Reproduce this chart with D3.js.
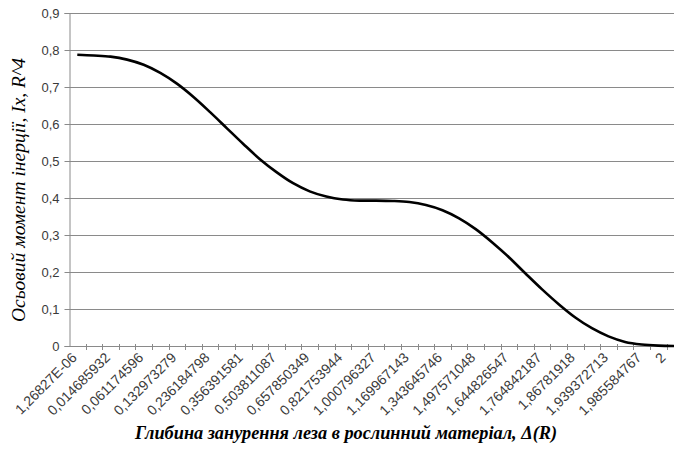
<!DOCTYPE html>
<html>
<head>
<meta charset="utf-8">
<script src="https://cdn.jsdelivr.net/npm/d3@7"></script>
<style>
  html, body { margin: 0; padding: 0; background: #fff; }
  svg { display: block; }
</style>
</head>
<body>
<svg id="chart" width="674" height="452"></svg>
<script>
// Category labels (depth Δ, in R). Only every second one is shown on the axis.
const categories = [
  "1,26827E-06", "0,0038", "0,014685932", "0,0341", "0,061174596", "0,0937",
  "0,132973279", "0,1806", "0,236184798", "0,2931", "0,356391581", "0,4264",
  "0,503811087", "0,5774", "0,657850349", "0,7403", "0,821753944", "0,9122",
  "1,000796327", "1,0866", "1,169967143", "1,2588", "1,343645746", "1,4225",
  "1,497571048", "1,5736", "1,644826547", "1,7071", "1,764842187", "1,8192",
  "1,86781918", "1,9063", "1,939372713", "1,9659", "1,985584767", "1,9962", "2"
];
// Axial moment of inertia Ix, R^4
const values = [
  0.787, 0.785, 0.782, 0.774, 0.760, 0.738, 0.709, 0.673, 0.632, 0.589,
  0.546, 0.505, 0.470, 0.440, 0.418, 0.404, 0.396, 0.393, 0.393, 0.392,
  0.389, 0.381, 0.367, 0.345, 0.316, 0.280, 0.240, 0.196, 0.153, 0.113,
  0.077, 0.048, 0.026, 0.011, 0.004, 0.001, 0.000
];
const yTicks = [0, 0.1, 0.2, 0.3, 0.4, 0.5, 0.6, 0.7, 0.8, 0.9];
const yTitle = "Осьовий момент інерції, Ix, R^4";
const xTitle = "Глибина занурення леза в рослинний матеріал, Δ(R)";

const svg = d3.select("#chart");
const mLeft = 69, mTop = 13, mBottom = 346, step = 16.6;

const x = d3.scaleBand().domain(categories).range([mLeft, mLeft + categories.length * step]).padding(0);
const y = d3.scaleLinear().domain([0, 0.9]).range([mBottom, mTop]);

const fmt = d => d === 0 ? "0" : d3.format(".1f")(d).replace(".", ",");

// gridlines
svg.append("g").selectAll("line").data(yTicks.filter(d => d > 0)).join("line")
  .attr("x1", mLeft).attr("x2", 674)
  .attr("y1", d => Math.round(y(d)) + 0.5).attr("y2", d => Math.round(y(d)) + 0.5)
  .attr("stroke", "#8a8a8a").attr("stroke-width", 1);

// y axis
const yAxis = svg.append("g").attr("transform", `translate(${mLeft + 0.5},0)`)
  .call(d3.axisLeft(y).tickValues(yTicks).tickFormat(fmt).tickSize(5).tickPadding(5));
yAxis.select(".domain").attr("stroke", "#8a8a8a");
yAxis.selectAll(".tick line").attr("stroke", "#8a8a8a");
yAxis.selectAll(".tick text").attr("font-family", "Liberation Sans, Arial, sans-serif")
  .attr("font-size", 13).attr("fill", "#3a3a3a");

// x axis line and ticks (between categories)
const xg = svg.append("g");
xg.append("line").attr("x1", mLeft).attr("x2", 674)
  .attr("y1", mBottom + 0.5).attr("y2", mBottom + 0.5).attr("stroke", "#8a8a8a");
const bounds = categories.map(c => x(c)).concat([x(categories[categories.length - 1]) + x.bandwidth()]);
xg.selectAll("line.tk").data(bounds.slice(1)).join("line").attr("class", "tk")
  .attr("x1", d => Math.round(d) + 0.5).attr("x2", d => Math.round(d) + 0.5)
  .attr("y1", mBottom - 2).attr("y2", mBottom + 4).attr("stroke", "#8a8a8a");

// x labels (every second category); the last one is kept inside the chart edge
xg.selectAll("text").data(categories.filter((c, i) => i % 2 === 0)).join("text")
  .attr("transform", d => `translate(${Math.min(x(d) + x.bandwidth() / 2 - 3, 663)},${mBottom + 9}) rotate(-45)`)
  .attr("text-anchor", "end").attr("dy", "0.35em")
  .attr("font-family", "Liberation Sans, Arial, sans-serif").attr("font-size", 14)
  .attr("fill", "#3a3a3a").text(d => d);

// curve
const line = d3.line()
  .x((d, i) => x(categories[i]) + x.bandwidth() / 2)
  .y(d => y(d))
  .curve(d3.curveCatmullRom.alpha(0.5));
svg.append("path").datum(values).attr("d", line)
  .attr("fill", "none").attr("stroke", "#000").attr("stroke-width", 2.6)
  .attr("stroke-linejoin", "round").attr("stroke-linecap", "butt");

// titles
svg.append("text").attr("transform", "translate(25,190) rotate(-90)")
  .attr("text-anchor", "middle")
  .attr("font-family", "Liberation Serif, Times New Roman, serif")
  .attr("font-style", "italic").attr("font-size", 19.5).attr("fill", "#000")
  .text(yTitle);
svg.append("text").attr("x", 346).attr("y", 439)
  .attr("text-anchor", "middle")
  .attr("font-family", "Liberation Serif, Times New Roman, serif")
  .attr("font-style", "italic").attr("font-weight", "bold").attr("font-size", 18.3).attr("fill", "#000")
  .text(xTitle);
</script>
</body>
</html>
